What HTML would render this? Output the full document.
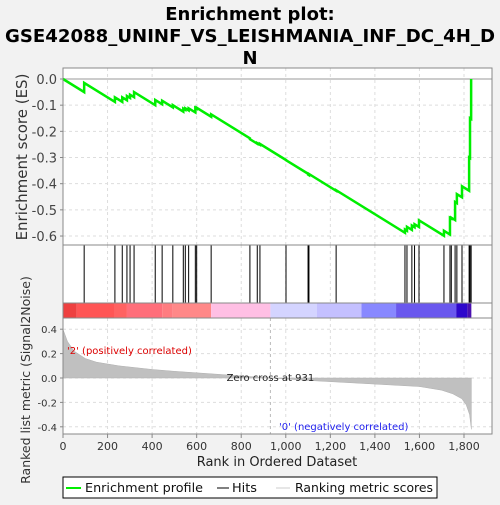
<!DOCTYPE html>
<html><head><meta charset="utf-8">
<style>
body{margin:0;background:#f2f2f2;width:500px;height:500px;overflow:hidden;font-family:"Liberation Sans","DejaVu Sans",sans-serif;}
svg text{font-family:"DejaVu Sans","Liberation Sans",sans-serif;}
</style></head>
<body>
<svg id="chart" width="500" height="500">
<text x="250" y="20" text-anchor="middle" font-size="18" font-weight="bold">Enrichment plot:</text>
<text x="5" y="42" font-size="18" font-weight="bold" textLength="490" lengthAdjust="spacingAndGlyphs">GSE42088_UNINF_VS_LEISHMANIA_INF_DC_4H_D</text>
<text x="250" y="64" text-anchor="middle" font-size="18" font-weight="bold">N</text>
<g id="g"></g>
</svg>
<script>
const hitRanks=[95,233,266,287,301,319,414,445,493,540,549,564,594,600,665,839,872,884,1001,1100,1104,1226,1535,1544,1566,1578,1598,1710,1737,1743,1760,1768,1791,1823,1827,1832];
const esAfterHit=[-0.015,-0.07,-0.07,-0.065,-0.06,-0.05,-0.08,-0.083,-0.1,-0.113,-0.112,-0.112,-0.11,-0.11,-0.135,-0.23,-0.245,-0.248,-0.31,-0.365,-0.363,-0.425,-0.575,-0.565,-0.56,-0.555,-0.54,-0.58,-0.53,-0.53,-0.47,-0.44,-0.41,-0.3,-0.15,0.0];
const esSlope=0.000526;
const metricRanks=[0,20,50,100,150,250,400,500,700,931,1100,1400,1600,1700,1750,1790,1810,1825,1833];
const metricValues=[0.4,0.3,0.22,0.16,0.13,0.1,0.07,0.055,0.03,0,-0.02,-0.05,-0.07,-0.1,-0.13,-0.17,-0.22,-0.3,-0.42];
const colorStops=[0,62,233,287,445,493,665,931,1140,1340,1495,1765,1815,1833];
const colorFills=["#ee4040","#ff5555","#ff6262","#ff6e7a","#ff7c80","#ff8888","#ffbfe4","#d4d4ff","#c4c0ff","#8888ff","#6a58ee","#2e08cc","#4a10b0"];
const esTicks=[0,-0.1,-0.2,-0.3,-0.4,-0.5,-0.6];
const esTickLabels=["0.0","-0.1","-0.2","-0.3","-0.4","-0.5","-0.6"];
const metricTicks=[0.4,0.2,0,-0.2,-0.4];
const metricTickLabels=["0.4","0.2","0.0","-0.2","-0.4"];
const xTicks=[0,200,400,600,800,1000,1200,1400,1600,1800];
const xTickLabels=["0","200","400","600","800","1,000","1,200","1,400","1,600","1,800"];
const totalRanks=1833, zeroCross=931;

const L=63,R=492;
const X=r=>L+r*(401/1800);
const YE=v=>79-v*261.7;
const YM=v=>378-v*122;
const NS="http://www.w3.org/2000/svg";
const g=document.getElementById('g');
function mk(t,a,name,parent){const e=document.createElementNS(NS,t);for(const k in a)e.setAttribute(k,a[k]);


(parent||g).appendChild(e);return e;}

mk('rect',{x:L,y:68,width:R-L,height:177,fill:'#fff',stroke:'none'},'es-panel');
mk('rect',{x:L,y:245,width:R-L,height:73,fill:'#fff',stroke:'none'},'hits-panel');
mk('rect',{x:L,y:318,width:R-L,height:116,fill:'#fff',stroke:'none'},'metric-panel');
xTicks.forEach((t,i)=>{if(t===0)return;
 mk('line',{x1:X(t),x2:X(t),y1:68,y2:245,stroke:'#ddd','stroke-dasharray':'3,3'},'es-grid-x');
 mk('line',{x1:X(t),x2:X(t),y1:245,y2:303,stroke:'#ddd','stroke-dasharray':'3,3'},'hits-grid-x');
 mk('line',{x1:X(t),x2:X(t),y1:318,y2:434,stroke:'#ddd','stroke-dasharray':'3,3'},'metric-grid-x');});
esTicks.forEach((t,i)=>{
 mk('line',{x1:L,x2:R,y1:YE(t),y2:YE(t),stroke:t===0?'#bbb':'#ddd','stroke-dasharray':t===0?'':'3,3','stroke-width':t===0?1.5:1},'es-grid-y');
 mk('line',{x1:L-3,x2:L,y1:YE(t),y2:YE(t),stroke:'#888'},'es-tick');
 const tx=mk('text',{x:L-6,y:YE(t)+5,'text-anchor':'end','font-size':13,fill:'#444'},'es-tick-label');tx.textContent=esTickLabels[i];});
metricTicks.forEach((t,i)=>{
 mk('line',{x1:L,x2:R,y1:YM(t),y2:YM(t),stroke:'#ddd','stroke-dasharray':'3,3'},'metric-grid-y');
 mk('line',{x1:L-3,x2:L,y1:YM(t),y2:YM(t),stroke:'#888'},'metric-tick');
 const tx=mk('text',{x:L-6,y:YM(t)+4,'text-anchor':'end','font-size':10,fill:'#333'},'metric-tick-label');tx.textContent=metricTickLabels[i];});
let pts=[[0,0]],prevR=0,prevE=0;
hitRanks.forEach((r,i)=>{const before=prevE-esSlope*(r-prevR);pts.push([r,before]);pts.push([r,esAfterHit[i]]);prevR=r;prevE=esAfterHit[i];});
mk('polyline',{points:pts.map(p=>X(p[0])+','+YE(p[1])).join(' '),fill:'none',stroke:'#00ee00','stroke-width':2.5},'enrichment-profile-line');
hitRanks.forEach(r=>mk('line',{x1:X(r),x2:X(r),y1:245,y2:303,stroke:'#000','stroke-width':1},'hit-mark'));
for(let i=0;i<colorFills.length;i++)mk('rect',{x:X(colorStops[i]),y:303,width:X(colorStops[i+1])-X(colorStops[i]),height:15,fill:colorFills[i]},'rank-color-segment');
let mp='M'+X(0)+','+YM(0);metricRanks.forEach((r,i)=>mp+=' L'+X(r)+','+YM(metricValues[i]));mp+=' L'+X(totalRanks)+','+YM(0)+' Z';
mk('path',{d:mp,fill:'#c0c0c0',stroke:'#b0b0b0','stroke-width':0.5},'ranking-metric-area');
mk('line',{x1:X(zeroCross),x2:X(zeroCross),y1:318,y2:434,stroke:'#bbb','stroke-dasharray':'3,3'},'zero-cross-line');
let t=mk('text',{x:X(zeroCross),y:381,'text-anchor':'middle','font-size':10,fill:'#222','font-family':'DejaVu Sans Mono'},'zero-cross-label');t.textContent='Zero cross at 931';
t=mk('text',{x:67,y:354,'font-size':10,fill:'#d00'},'positive-label');t.textContent="'2' (positively correlated)";
t=mk('text',{x:279,y:430,'font-size':10,fill:'#2222ee'},'negative-label');t.textContent="'0' (negatively correlated)";
[[68,245],[245,318],[318,434]].forEach(b=>mk('rect',{x:L,y:b[0],width:R-L,height:b[1]-b[0],fill:'none',stroke:'#888'},'panel-border'));
mk('line',{x1:L,x2:R,y1:303,y2:303,stroke:'#888'},'colorbar-border');
xTicks.forEach((tk,i)=>{mk('line',{x1:X(tk),x2:X(tk),y1:434,y2:438,stroke:'#888'},'x-tick');
 const tx=mk('text',{x:X(tk),y:450,'text-anchor':'middle','font-size':11,fill:'#333'},'x-tick-label');tx.textContent=xTickLabels[i];});
t=mk('text',{x:277,y:466,'text-anchor':'middle','font-size':13,fill:'#222'},'x-axis-title');t.textContent='Rank in Ordered Dataset';
t=mk('text',{x:0,y:0,'text-anchor':'middle','font-size':15,fill:'#333',transform:'translate(27,157) rotate(-90)'},'es-axis-title');t.textContent='Enrichment score (ES)';
t=mk('text',{x:0,y:0,'text-anchor':'middle','font-size':12.5,fill:'#333',transform:'translate(30,380) rotate(-90)'},'metric-axis-title');t.textContent='Ranked list metric (Signal2Noise)';
mk('rect',{x:63,y:477,width:374,height:21,fill:'#fff',stroke:'#000'},'legend-box');
mk('line',{x1:66,x2:81,y1:488,y2:488,stroke:'#00ee00','stroke-width':2},'legend-enrichment-swatch');
t=mk('text',{x:85,y:492,'font-size':12.5,fill:'#111',textLength:118,lengthAdjust:'spacingAndGlyphs'},'legend-enrichment-label');t.textContent='Enrichment profile';
mk('line',{x1:217,x2:229,y1:488,y2:488,stroke:'#000'},'legend-hits-swatch');
t=mk('text',{x:232,y:492,'font-size':12.5,fill:'#111',textLength:25,lengthAdjust:'spacingAndGlyphs'},'legend-hits-label');t.textContent='Hits';
mk('line',{x1:276,x2:290,y1:488,y2:488,stroke:'#ccc'},'legend-metric-swatch');
t=mk('text',{x:295,y:492,'font-size':12.5,fill:'#111',textLength:138,lengthAdjust:'spacingAndGlyphs'},'legend-metric-label');t.textContent='Ranking metric scores';
</script>
</body></html>
